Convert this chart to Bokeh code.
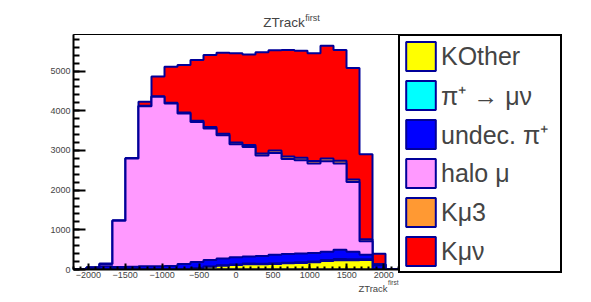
import numpy as np
from bokeh.plotting import figure
from bokeh.layouts import column
from bokeh.models import Range1d, SingleIntervalTicker, Legend, LegendItem, Label, LinearAxis, FixedTicker
from bokeh.embed import file_html
from bokeh.resources import INLINE

# ---- binning (ZTrack^first) ----
x_low, x_high, n_bins = -2200.0, 2200.0, 25

# ---- per-component bin contents ----
k_other = [0, 0, 0, 0, 0, 0, 0, 0, 0, 30, 70, 95, 115, 135, 130, 140, 155, 165, 180, 215, 235, 235, 240, 10, 0]
pi_munu = [0, 0, 0, 0, 0, 0, 0, 0, 0, 5, 8, 10, 12, 14, 15, 16, 18, 20, 22, 25, 30, 25, 20, 5, 0]
undec_pi = [8, 45, 80, 60, 70, 80, 80, 90, 140, 155, 162, 170, 183, 181, 195, 214, 217, 220, 213, 210, 235, 190, 110, 95, 8]
halo_mu = [0, 5, 60, 1170, 2730, 4036, 4271, 4094, 3791, 3530, 3313, 3109, 2847, 2758, 2531, 2567, 2395, 2348, 2254, 2277, 2169, 1755, 340, 20, 2]
k_mu3 = [0, 0, 0, 0, 5, 10, 15, 20, 25, 30, 35, 40, 45, 50, 55, 60, 60, 65, 65, 70, 70, 65, 50, 5, 0]
k_munu = [2, 0, 10, 10, 5, 99, 500, 905, 1195, 1528, 1816, 2038, 2248, 2283, 2546, 2525, 2685, 2695, 2713, 2843, 2791, 2806, 2144, 265, 2]

labels = ["KOther", "\u03c0\u207a \u2192 \u03bc\u03bd", "undec. \u03c0\u207a", "halo \u03bc", "K\u03bc3", "K\u03bc\u03bd"]
colors = ["#ffff00", "#00ffff", "#0000ff", "#ff99ff", "#ff9933", "#ff0000"]
line_col = "#000099"

x_ticks = [-2000, -1500, -1000, -500, 0, 500, 1000, 1500, 2000]
x_tick_labels = ["\u22122000", "\u22121500", "\u22121000", "\u2212500", "0", "500", "1000", "1500", "2000"]

edges = np.linspace(x_low, x_high, n_bins + 1)
layers = [k_other, pi_munu, undec_pi, halo_mu, k_mu3, k_munu]
cums = np.cumsum(np.array(layers, dtype=float), axis=0)

y_max = 1.05 * cums[-1].max()

FRAME_W, FRAME_H = 325, 235
LEFT = 73
STRIP_W = FRAME_W + 30
TITLE_H, TOP, BOTTOM = 32, 2, 27

p = figure(frame_width=FRAME_W, frame_height=FRAME_H, title=None,
           x_range=Range1d(x_low, x_high), y_range=Range1d(0, y_max),
           output_backend="svg", toolbar_location=None,
           min_border_left=LEFT, min_border_right=0, min_border_top=TOP, min_border_bottom=BOTTOM)
p.xgrid.visible = False
p.ygrid.visible = False
p.outline_line_color = "black"
p.outline_line_width = 1
p.background_fill_color = "white"
p.border_fill_color = "white"


def step_polygon(vals):
    xs = [edges[0]]
    ys = [0.0]
    for i in range(n_bins):
        xs += [edges[i], edges[i + 1]]
        ys += [vals[i], vals[i]]
    xs.append(edges[-1])
    ys.append(0.0)
    return xs, ys


renderers = [None] * len(layers)
for idx in range(len(layers) - 1, -1, -1):
    xs, ys = step_polygon(cums[idx])
    renderers[idx] = p.patch(xs, ys, fill_color=colors[idx], line_color=line_col, line_width=2)

# axes
for ax in (p.xaxis[0], p.yaxis[0]):
    ax.axis_line_width = 2
    ax.axis_line_color = "black"
    ax.major_tick_out = 0
    ax.minor_tick_out = 0
    ax.major_tick_line_width = 2
    ax.minor_tick_line_width = 2
    ax.major_label_text_font = "Liberation Sans"
    ax.major_label_text_font_size = "9px"

p.xaxis.major_label_standoff = 2
p.yaxis.major_label_standoff = 3
p.xaxis.ticker = SingleIntervalTicker(interval=500, num_minor_ticks=5)
p.xaxis.major_tick_in = 6
p.xaxis.minor_tick_in = 3
p.xaxis.major_label_overrides = {int(t): s for t, s in zip(x_ticks, x_tick_labels)}

p.yaxis.ticker = SingleIntervalTicker(interval=1000, num_minor_ticks=5)
p.yaxis.major_tick_in = 12
p.yaxis.minor_tick_in = 6

# x-axis title "ZTrack^first", right-aligned at the axis end, as two label-only axes
sup_pos, main_pos = 2130, 1855


def title_axis(pos, text, size, standoff):
    a = LinearAxis(ticker=FixedTicker(ticks=[pos]), major_label_overrides={pos: text},
                   axis_line_color=None, major_tick_line_color=None, minor_tick_line_color=None,
                   major_tick_in=0, major_tick_out=0, minor_tick_in=0, minor_tick_out=0,
                   major_label_standoff=standoff, major_label_text_font="Liberation Sans",
                   major_label_text_font_size=size)
    p.add_layout(a, "below")


title_axis(sup_pos, "first", "6.5px", -2)
title_axis(main_pos, "ZTrack", "9.5px", -6)

# legend in the right-hand panel
items = [LegendItem(label=labels[i], renderers=[renderers[i]]) for i in range(len(layers))]
legend = Legend(items=items, location="top_left", margin=0, padding=2, spacing=3,
                glyph_width=37, glyph_height=36, label_height=36, label_standoff=2, label_width=117,
                border_line_color="black", border_line_width=2, border_line_alpha=1,
                background_fill_color="white", background_fill_alpha=1,
                label_text_font="Liberation Sans", label_text_font_size="25px")
p.add_layout(legend, "right")

# histogram title strip (frame aligned with the main frame's left edge; x in page pixels)
top = figure(frame_width=STRIP_W, frame_height=TITLE_H, title=None, toolbar_location=None,
             output_backend="svg", x_range=Range1d(LEFT, LEFT + STRIP_W), y_range=Range1d(TITLE_H, 0),
             x_axis_location=None, y_axis_location=None,
             min_border_left=0, min_border_right=0, min_border_top=0, min_border_bottom=0)
top.xgrid.visible = False
top.ygrid.visible = False
top.outline_line_color = None
top.background_fill_color = "white"
top.border_fill_color = "white"
top.add_layout(Label(x=304.3, y=22, text="ZTrack", text_align="right", text_baseline="alphabetic",
                     text_font="Liberation Sans", text_font_size="13.5px"))
top.add_layout(Label(x=304.8, y=17, text="first", text_align="left", text_baseline="alphabetic",
                     text_font="Liberation Sans", text_font_size="9px"))

layout = column(top, p, spacing=0)
open("out.html", "w").write(file_html(layout, INLINE))
